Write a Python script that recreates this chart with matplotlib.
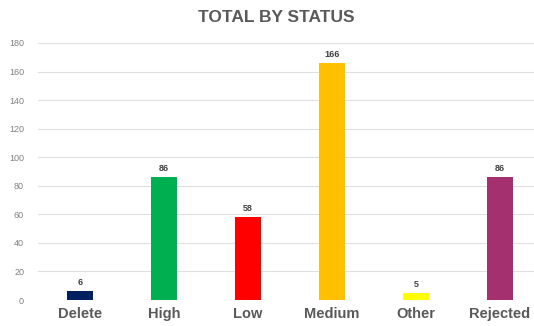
import matplotlib.pyplot as plt

plt.rcParams["font.family"] = ["Liberation Sans", "DejaVu Sans"]

statuses = ["Delete", "High", "Low", "Medium", "Other", "Rejected"]
totals = [6, 86, 58, 166, 5, 86]
colors = ["#002060", "#00B050", "#FF0000", "#FFC000", "#FFFF00", "#A5306F"]
y_ticks = list(range(0, 181, 20))

fig = plt.figure(figsize=(5.34, 3.26), dpi=100)
ax = fig.add_axes([38 / 534, 26 / 326, 496 / 534, 257 / 326])

x = range(len(statuses))
bars = ax.bar(x, totals, width=0.31, color=colors, zorder=3)

for b, v in zip(bars, totals):
    ax.text(b.get_x() + b.get_width() / 2, v + 3, str(v), ha="center", va="bottom",
            fontsize=6.5, fontweight="bold", color="#404040")

ax.set_xlim(-0.5, -0.5 + 496 / 84)
ax.set_ylim(0, 180)
ax.set_yticks(y_ticks)
ax.set_xticks(list(x))
ax.set_xticklabels(statuses, fontsize=10.5, fontweight="bold", color="#595959")
ax.tick_params(axis="y", labelsize=6.5, colors="#808080", length=0, pad=10)
ax.tick_params(axis="x", length=0, pad=5)
ax.grid(axis="y", color="#E0E0E0", linewidth=0.8, zorder=0)
for s in ax.spines.values():
    s.set_visible(False)

fig.text(276 / 534, 1 - 18 / 326, "TOTAL BY STATUS", ha="center", va="center",
         fontsize=12.5, fontweight="bold", color="#595959")

fig.savefig("out.png", dpi=100)
